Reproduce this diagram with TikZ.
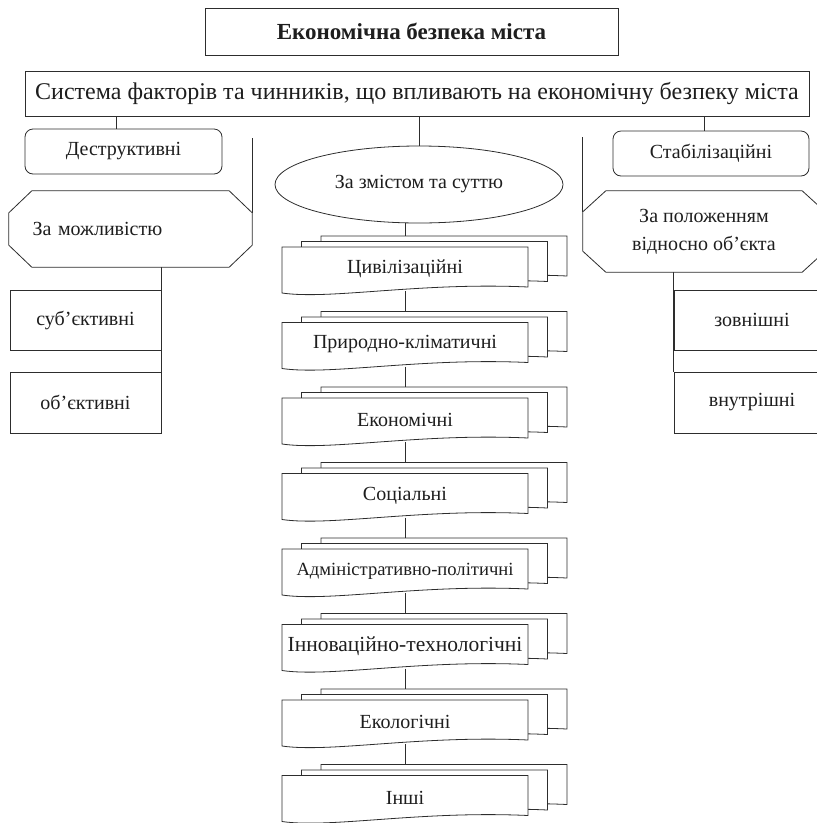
\documentclass[tikz,border=0pt]{standalone}
\usepackage{fontspec}
\setmainfont{Liberation Serif}
\usetikzlibrary{shapes.geometric}
\usetikzlibrary{backgrounds}
\definecolor{lineclr}{RGB}{45,45,45}
\definecolor{textclr}{RGB}{30,30,30}
\tikzset{
  box/.style={draw=lineclr, line width=0.8pt, rectangle, inner sep=0pt, fill=white, text=textclr, font=\fontsize{20}{24}\selectfont},
  roundbox/.style={box, rounded corners=8pt},
  ovalbox/.style={box, ellipse},
  octbox/.style={rectangle, inner sep=0pt, text=textclr, font=\fontsize{20}{28}\selectfont},
  doctext/.style={rectangle, inner sep=0pt, minimum width=246pt, minimum height=44pt, text=textclr, font=\fontsize{20}{24}\selectfont},
  link/.style={draw=lineclr, line width=0.8pt}
}
\newcommand{\octoutline}[2]{%
  \draw[link, fill=white] ([xshift=23pt]#1.north west) -- ([xshift=-23pt]#1.north east) -- ([yshift=-#2]#1.north east) -- ([yshift=#2]#1.south east) -- ([xshift=-23pt]#1.south east) -- ([xshift=23pt]#1.south west) -- ([yshift=#2]#1.south west) -- ([yshift=-#2]#1.north west) -- cycle;}
\newcommand{\docstack}[3]{%
  \foreach \dx/\dy in {39/-11, 19.5/-5.5, 0/0}{
    \draw[link, fill=white] (282+\dx,#2+\dy) -- (528+\dx,#2+\dy) -- (528+\dx,#2+40+\dy) .. controls (420+\dx,#2+35+\dy) and (330+\dx,#2+53+\dy) .. (282+\dx,#2+46+\dy) -- cycle;
  }
  \node[doctext] (#1) at (405,#2+22) {#3};}

\begin{document}
\begin{tikzpicture}[x=1pt,y=-1pt]
\useasboundingbox (0,0) rectangle (817,823);

\node[box, minimum width=413pt, minimum height=47pt, font=\fontsize{23}{26}\selectfont\bfseries] (title) at (411.5,31.5) {Економічна безпека міста};
\node[box, minimum width=784pt, minimum height=45pt, font=\fontsize{24}{28}\selectfont] (sys) at (417,93.5) {Система факторів та чинників, що впливають на економічну безпеку міста};

\node[roundbox, minimum width=197pt, minimum height=45pt] (destr) at (123.5,151.5) {Деструктивні};
\node[roundbox, minimum width=196pt, minimum height=45pt] (stab) at (711,153.5) {Стабілізаційні};
\node[ovalbox, minimum width=288pt, minimum height=77pt] (ell) at (419,184.5) {За змістом та суттю};

\node[octbox, minimum width=243pt, minimum height=76pt] (octL) at (130.5,229) {};
\octoutline{octL}{22pt}
\node[octbox, text width=196pt, align=left] (octLtxt) at (octL) {За можливістю};
\node[octbox, minimum width=242pt, minimum height=81pt] (octR) at (704,231.5) {};
\octoutline{octR}{21pt}
\node[octbox, align=center] (octRtxt) at (octR) {За положенням\\відносно об’єкта};

\node[box, minimum width=151pt, minimum height=60pt] (subj) at (85.5,320) {суб’єктивні};
\node[box, minimum width=151pt, minimum height=61pt] (obj) at (85.5,402.5) {об’єктивні};
\node[box, minimum width=156pt, minimum height=60pt] (zovn) at (752,320) {зовнішні};
\node[box, minimum width=156pt, minimum height=61pt] (vnutr) at (752,402.5) {внутрішні};

\foreach \txt [count=\i] in {Цивілізаційні, Природно-кліматичні, Економічні, Соціальні, {\fontsize{18.6}{22}\selectfont Адміністративно-політичні}, {\fontsize{21.5}{24}\selectfont Інноваційно-технологічні}, Екологічні, Інші}{
  \docstack{d\i}{171.5+75.5*\i}{\txt}
}

\begin{scope}[on background layer]
\draw[link] ([xshift=-7.5pt]destr.north) -- ([xshift=-7.5pt]destr.north |- sys.south);
\draw[link] ([xshift=-7pt]stab.north) -- ([xshift=-7pt]stab.north |- sys.south);
\draw[link] (ell.north) -- (ell.north |- sys.south);
\draw[link] ([yshift=-22pt]octL.north east) -- ([yshift=-22pt]octL.north east |- sys.south);
\draw[link] ([yshift=-21pt]octR.north west) -- ([yshift=-21pt]octR.north west |- sys.south);
\draw[link] (octL.south -| subj.east) -- (obj.north east);
\draw[link] (octR.south -| zovn.west) -- (vnutr.north west);
\draw[link] (ell.center -| d1.center) -- (d1);
\foreach \i [evaluate=\i as \j using int(\i+1)] in {1,...,7}
  \draw[link] (d\i) -- (d\j);
\end{scope}
\end{tikzpicture}
\end{document}
